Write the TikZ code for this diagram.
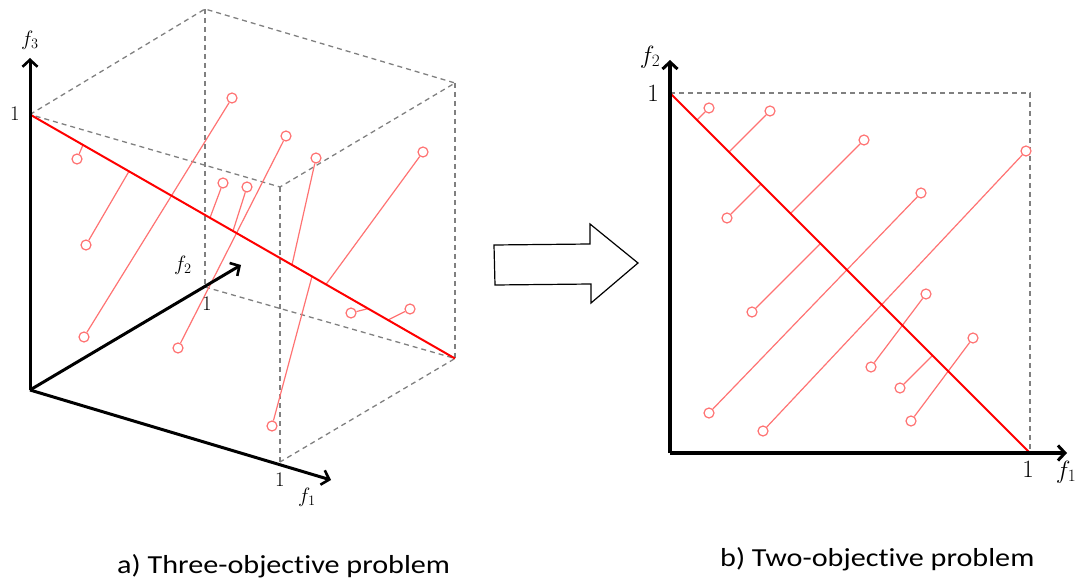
\documentclass[tikz,border=0pt]{standalone}
\usepackage{fontspec}
\usepackage{graphicx}
\newfontfamily\capfont[Ligatures=NoCommon]{Carlito}
\usetikzlibrary{arrows.meta}
\begin{document}
\begin{tikzpicture}[x=1pt,y=-1pt,
  axisL/.style={line width=3pt,-{Straight Barb[length=7pt,width=15pt,line width=2.6pt]}},
  axisR/.style={line width=4pt,-{Straight Barb[length=7pt,width=15pt,line width=3pt]}},
  dashline/.style={draw=gray,line width=1.3pt,dash pattern=on 5pt off 4pt},
  front/.style={draw=red,line width=2pt},
  seg/.style={draw=red!55,line width=1.2pt},
  pt/.style={circle,draw=red!55,fill=white,line width=1.2pt,minimum size=10pt,inner sep=0pt},
  lab/.style={font=\fontsize{22}{26}\selectfont,inner sep=0pt},
  labR/.style={font=\fontsize{24}{28}\selectfont,inner sep=0pt},
  caption/.style={font=\capfont\fontsize{26}{30}\selectfont,inner sep=0pt,anchor=base west},
  hollow/.style={draw=black,line width=1.2pt,fill=white,line join=miter}
]
\useasboundingbox (0,0) rectangle (1077,580);

% ---------------- left: three objectives ----------------
\coordinate (O) at (30,390);
\coordinate (c100) at (280,462);
\coordinate (c010) at (205,287);
\coordinate (c001) at (30,114.5);
\coordinate (c110) at (455,358.5);
\coordinate (c101) at (280,187);
\coordinate (c011) at (205,9);
\coordinate (c111) at (455,83);
\coordinate (f1tip) at (331,480);
\coordinate (f2tip) at (241,265);
\coordinate (f3tip) at (30,58);

\draw[dashline] (c001) -- (c011) -- (c111) -- (c101) -- cycle;
\draw[dashline] (c011) -- (c010);
\draw[dashline] (c101) -- (c100);
\draw[dashline] (c111) -- (c110);
\draw[dashline] (c010) -- (c110) -- (c100);

% segments to the front
\coordinate (ra1) at (83,144.9);
\coordinate (ra2) at (129,171.3);
\coordinate (ra4) at (210,217.8);
\coordinate (ra5) at (233,231.0);
\coordinate (ra7) at (292,264.9);
\coordinate (ra8) at (312,276.4);
\coordinate (ra9) at (326,284.4);
\coordinate (ra10) at (368,308.6);
\coordinate (ra11) at (388,320.0);

\node[pt] (a1) at (77,159) {};
\node[pt] (a2) at (86,245) {};
\node[pt] (a3) at (84,337) {};
\node[pt] (a3b) at (232,98) {};
\node[pt] (a4) at (223,183) {};
\node[pt] (a5) at (247,187) {};
\node[pt] (a6) at (286,136) {};
\node[pt] (a6b) at (178,348) {};
\node[pt] (a7) at (316,158) {};
\node[pt] (a8) at (272,426) {};
\node[pt] (a9) at (423,152) {};
\node[pt] (a10) at (351,313) {};
\node[pt] (a11) at (410,309) {};

\draw[seg] (a1) -- (ra1);
\draw[seg] (a2) -- (ra2);
\draw[seg] (a3) -- (a3b);
\draw[seg] (a4) -- (ra4);
\draw[seg] (a5) -- (ra5);
\draw[seg] (a6) -- (a6b);
\draw[seg] (a7) -- (ra7);
\draw[seg] (a8) -- (ra8);
\draw[seg] (a9) -- (ra9);
\draw[seg] (a10) -- (ra10);
\draw[seg] (a11) -- (ra11);

\draw[front] (c001) -- (c110);

\draw[axisL] (O) -- (f3tip);
\draw[axisL] (O) -- (f2tip);
\draw[axisL] (O) -- (f1tip);

\node[lab] (lf3) at (30,40) {$f_3$};
\node[lab] (l1z) at (15,114) {$1$};
\node[lab] (lf2) at (183,265) {$f_2$};
\node[lab] (l1y) at (207,304) {$1$};
\node[lab] (l1x) at (280,480) {$1$};
\node[lab] (lf1) at (307,497) {$f_1$};

% ---------------- hollow arrow ----------------
\draw[hollow] (494,245) -- (590,244) -- (590,224) -- (638,263) -- (591,303) -- (591,284) -- (495,285) -- cycle;

% ---------------- right: two objectives ----------------
\coordinate (O2) at (670,453);
\coordinate (y1) at (670,93);
\coordinate (x1) at (1030,453);
\coordinate (xy1) at (1030,93);
\coordinate (g1tip) at (1067,453);
\coordinate (g2tip) at (670,60);

\draw[dashline] (y1) -- (xy1) -- (x1);

\coordinate (rb1) at (697,120);
\coordinate (rb2) at (729,152);
\coordinate (rb3) at (761,184);
\coordinate (rb4) at (790.5,213.5);
\coordinate (rb5) at (820.5,243.5);
\coordinate (rb10) at (932.5,355.5);

\node[pt] (b1) at (709,108) {};
\node[pt] (b2) at (770,111) {};
\node[pt] (b3) at (727,218) {};
\node[pt] (b4) at (864,140) {};
\node[pt] (b5) at (752,312) {};
\node[pt] (b6) at (709,413) {};
\node[pt] (b6b) at (921,193) {};
\node[pt] (b7) at (763,431) {};
\node[pt] (b7b) at (1026,151) {};
\node[pt] (b8) at (926,294) {};
\node[pt] (b8b) at (871,367) {};
\node[pt] (b9) at (973,338) {};
\node[pt] (b9b) at (911,421) {};
\node[pt] (b10) at (900,388) {};

\draw[seg] (b1) -- (rb1);
\draw[seg] (b2) -- (rb2);
\draw[seg] (b3) -- (rb3);
\draw[seg] (b4) -- (rb4);
\draw[seg] (b5) -- (rb5);
\draw[seg] (b6) -- (b6b);
\draw[seg] (b7) -- (b7b);
\draw[seg] (b8) -- (b8b);
\draw[seg] (b9) -- (b9b);
\draw[seg] (b10) -- (rb10);

\draw[front] (y1) -- (x1);

\draw[axisR] (O2) -- (g2tip);
\draw[axisR] (O2) -- (g1tip);

\node[labR] (mf2) at (650,57) {$f_2$};
\node[labR] (m1y) at (653,93) {$1$};
\node[labR] (m1x) at (1028,469) {$1$};
\node[labR] (mf1) at (1066,472) {$f_1$};

% ---------------- captions ----------------
\node[caption] (capa) at (117,573) {\scalebox{1.16}[1]{a) Three-objective problem}};
\node[caption] (capb) at (720,566) {\scalebox{1.16}[1]{b) Two-objective problem}};
\end{tikzpicture}
\end{document}
